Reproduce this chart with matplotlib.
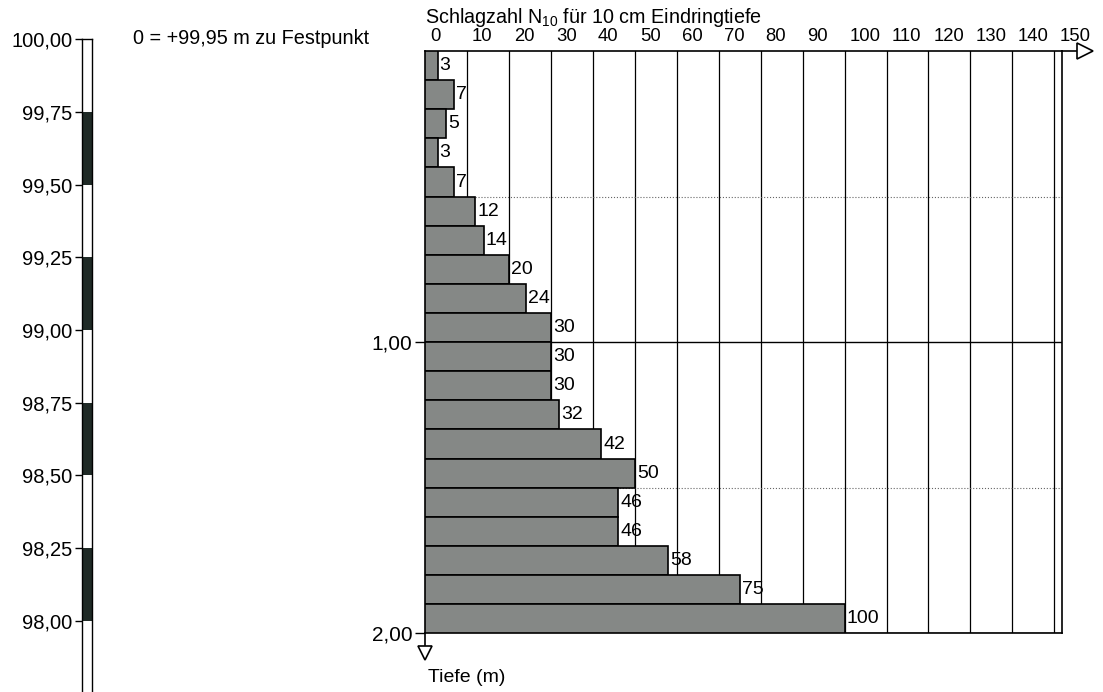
import matplotlib
matplotlib.use('Agg')
from matplotlib import pyplot as plt
from matplotlib.transforms import ScaledTranslation

plt.rcParams['font.family'] = ['Liberation Sans', 'DejaVu Sans']
plt.rcParams['mathtext.fontset'] = 'custom'
plt.rcParams['mathtext.rm'] = 'Liberation Sans'
plt.rcParams['mathtext.it'] = 'Liberation Sans:italic'

# Schlagzahlen je 10 cm (Oberkante der Schicht in m)
depth_top = [0.0, 0.1, 0.2, 0.3, 0.4, 0.5, 0.6, 0.7, 0.8, 0.9,
             1.0, 1.1, 1.2, 1.3, 1.4, 1.5, 1.6, 1.7, 1.8, 1.9]
blows = [3, 7, 5, 3, 7, 12, 14, 20, 24, 30,
         30, 30, 32, 42, 50, 46, 46, 58, 75, 100]

x_ticks = [0, 10, 20, 30, 40, 50, 60, 70, 80, 90, 100, 110, 120, 130, 140, 150]
depth_ticks = [1.0, 2.0]
depth_labels = ['1,00', '2,00']

# Höhenleiste links
elev_ticks = [100.0, 99.75, 99.5, 99.25, 99.0, 98.75, 98.5, 98.25, 98.0]
elev_labels = ['100,00', '99,75', '99,50', '99,25', '99,00', '98,75', '98,50', '98,25', '98,00']
dark_top = [99.75, 99.25, 98.75, 98.25]
dark_bottom = [99.5, 99.0, 98.5, 98.0]

W, H = 1103, 692
fig = plt.figure(figsize=(W / 100, H / 100), dpi=100)

# --- left elevation strip
axl = fig.add_axes([82 / W, 0, 10 / W, (H - 39.3) / H])
axl.set_ylim(97.7555, 100.0)
axl.set_xlim(0, 1)
for t, b in zip(dark_top, dark_bottom):
    axl.axhspan(b, t, color='#1f2a26', lw=0)
axl.spines['bottom'].set_visible(False)
for s in ['left', 'right', 'top']:
    axl.spines[s].set_linewidth(1.0)
axl.set_xticks([])
axl.set_yticks(elev_ticks)
axl.set_yticklabels(elev_labels)
axl.tick_params(axis='y', length=5, width=1.0, pad=2, labelsize=14.5)

fig.text(133 / W, 1 - 44.3 / H, '0 = +99,95 m zu Festpunkt', fontsize=14.3, va='baseline')

# --- main chart
ax = fig.add_axes([425 / W, (H - 633.3) / H, (1062.3 - 425) / W, (633.3 - 51) / H])
ax.set_xlim(0, 151.9)
ax.set_ylim(2.0, 0.0)

bars = ax.barh(depth_top, blows, height=0.1, align='edge',
               color='#858886', edgecolor='black', linewidth=1.2, zorder=3)
ax.bar_label(bars, labels=[str(v) for v in blows], padding=1.5, fontsize=14)

ax.xaxis.tick_top()
ax.set_xticks(x_ticks)
ax.tick_params(axis='x', length=0, pad=4, labelsize=13.3)
off = ScaledTranslation(5 / 100, 0, fig.dpi_scale_trans)
for lab in ax.get_xticklabels():
    lab.set_ha('left')
    lab.set_transform(lab.get_transform() + off)

ax.set_yticks(depth_ticks)
ax.set_yticklabels(depth_labels)
ax.set_yticks([0.5, 1.5], minor=True)
ax.tick_params(axis='y', which='major', length=7, width=1.0, pad=2, labelsize=15)
ax.tick_params(axis='y', which='minor', length=0)

ax.grid(axis='x', color='black', lw=0.9)
ax.grid(axis='y', which='major', color='black', lw=1.0)
ax.grid(axis='y', which='minor', color='#666666', lw=0.8, linestyle=':')
ax.set_axisbelow(True)
for s in ax.spines.values():
    s.set_linewidth(1.2)

# arrow heads on the axes
ax.plot([1.0, 1.0231], [1.0, 1.0], color='black', lw=1.2, transform=ax.transAxes, clip_on=False)
ax.plot([1.0356], [1.0], marker='>', ms=11, mfc='white', mec='black', mew=1.2,
        transform=ax.transAxes, clip_on=False)
ax.plot([0.0, 0.0], [0.0, -0.020], color='black', lw=1.2, transform=ax.transAxes, clip_on=False)
ax.plot([0.0], [-0.033], marker='v', ms=10, mfc='white', mec='black', mew=1.2,
        transform=ax.transAxes, clip_on=False)

fig.text(425 / W, 1 - 23.3 / H, 'Schlagzahl N$_{10}$ für 10 cm Eindringtiefe',
         fontsize=14.2, va='baseline')
fig.text(428 / W, 1 - 681.7 / H, 'Tiefe (m)', fontsize=14, va='baseline')

fig.savefig('out.png', dpi=100)
